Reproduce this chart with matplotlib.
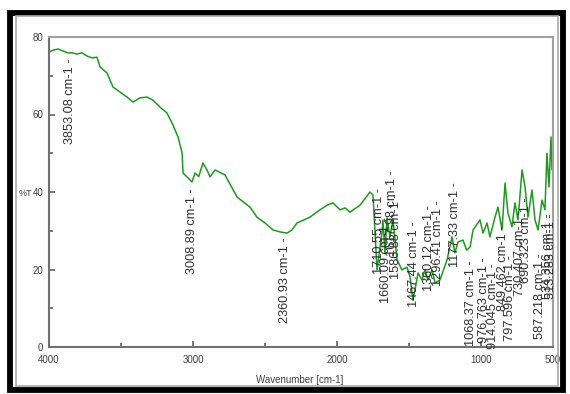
import matplotlib
matplotlib.use('Agg')
from matplotlib import pyplot as plt
from matplotlib.patches import Rectangle

plt.rcParams['font.family'] = ['Liberation Sans Narrow', 'Liberation Sans', 'DejaVu Sans']

# traced spectrum (wavenumber, %T)
wavenumber = [4000, 3972, 3937, 3903, 3868, 3840, 3806, 3771, 3736, 3701, 3667, 3646,
              3597, 3556, 3507, 3458, 3417, 3368, 3319, 3278, 3229, 3181, 3139, 3104,
              3076, 3069, 3042, 3007, 2986, 2960, 2931, 2903, 2882, 2847, 2778, 2694,
              2604, 2556, 2500, 2444, 2396, 2347, 2313, 2278, 2188, 2118, 2069, 2028,
              1979, 1944, 1910, 1840, 1771, 1750, 1722, 1688, 1681, 1667, 1653, 1632,
              1611, 1583, 1549, 1514, 1493, 1472, 1437, 1410, 1389, 1368, 1340, 1319,
              1285, 1236, 1201, 1181, 1160, 1125, 1100, 1076, 1055, 1007, 986, 958,
              938, 903, 882, 854, 833, 813, 785, 764, 743, 715, 694, 674, 646, 625,
              604, 576, 556, 542, 528, 514, 507, 500]
transmittance = [76.1, 76.6, 76.9, 76.4, 75.9, 75.9, 75.6, 75.9, 75.1, 74.6, 74.8, 72.3,
                 70.7, 67.1, 65.8, 64.5, 63.2, 64.3, 64.5, 63.7, 61.9, 60.4, 57.3, 54.2,
                 50.1, 44.9, 43.9, 42.6, 44.9, 44.0, 47.5, 45.7, 43.9, 45.7, 44.4, 38.7,
                 36.1, 33.5, 32.0, 30.2, 29.7, 29.4, 30.2, 32.0, 33.5, 35.4, 36.6, 37.2,
                 35.4, 35.9, 34.8, 36.6, 40.0, 39.2, 19.9, 29.4, 32.8, 24.3, 33.3, 28.4,
                 32.8, 22.5, 19.9, 20.6, 18.1, 12.1, 19.1, 17.3, 19.9, 17.3, 19.9, 16.5,
                 17.3, 22.5, 28.4, 24.3, 27.1, 27.6, 25.0, 25.8, 30.2, 32.8, 29.4, 32.0,
                 28.4, 33.5, 36.1, 30.2, 42.3, 34.6, 31.0, 37.2, 32.8, 45.7, 41.3, 33.5,
                 40.5, 32.8, 30.2, 37.9, 35.4, 50.0, 41.3, 54.2, 45.7, 51.6]

peak_wn = [3853.08, 3008.89, 2360.93, 1710.55, 1660.09, 1617.98, 1586.88, 1467.44,
           1360.12, 1296.41, 1177.33, 1068.37, 976.763, 914.045, 849.462, 797.596,
           730.407, 690.323, 587.218, 534.356, 513.283]
peak_text = ['3853.08', '3008.89', '2360.93', '1710.55', '1660.09', '1617.98', '1586.88',
             '1467.44', '1360.12', '1296.41', '1177.33', '1068.37', '976.763', '914.045',
             '849.462', '797.596', '730.407', '690.323', '587.218', '534.356', '513.283']
# top of each rotated label, in %T
label_top = [74.6, 41.0, 28.4, 41.0, 33.5, 45.7, 39.7, 32.3, 36.6, 37.9, 42.6, 22.5,
             23.2, 21.7, 31.5, 23.7, 35.4, 38.7, 24.3, 34.6, 34.6]

fig = plt.figure(figsize=(5.7, 3.94), dpi=100)

# outer frame
fig.patches.append(Rectangle((10 / 570, 4 / 394), 553 / 570, 377.5 / 394, transform=fig.transFigure,
                             fill=False, edgecolor='black', lw=4.2))
fig.patches.append(Rectangle((15.5 / 570, 8 / 394), 542 / 570, 370 / 394, transform=fig.transFigure,
                             fill=False, edgecolor='#a8a8a8', lw=1.2))

ax = fig.add_axes([49 / 570, 1 - 347 / 394, 504 / 570, 310 / 394])
ax.plot(wavenumber, transmittance, color='#1e9a1e', lw=1.1)

for wn, txt, top in zip(peak_wn, peak_text, label_top):
    ax.text(wn, top, txt + ' cm-1 -', rotation=90, ha='center', va='top',
            fontsize=9.2, color='#303030', family=['Liberation Sans', 'DejaVu Sans'])

ax.set_xlim(4000, 500)
ax.set_ylim(0, 80)
ax.set_xticks([4000, 3000, 2000, 1000, 500])
ax.set_xticks([3500, 2500, 1500], minor=True)
ax.set_yticks([0, 20, 40, 60, 80])
ax.set_yticks([10, 30, 50, 70], minor=True)
ax.tick_params(which='both', direction='in', colors='#606060', labelcolor='#404040',
               labelsize=7, width=1.2)
ax.tick_params(which='major', length=4)
ax.tick_params(axis='x', which='major', pad=6)
ax.tick_params(axis='y', which='major', pad=4)
ax.tick_params(which='minor', length=3)
for s in ['left', 'bottom']:
    ax.spines[s].set_color('#707070')
    ax.spines[s].set_linewidth(1.5)
for s in ['top', 'right']:
    ax.spines[s].set_color('#a0a0a0')
    ax.spines[s].set_linewidth(1.5)

fig.text(300 / 570, 1 - 380 / 394, 'Wavenumber [cm-1]', ha='center', va='center',
         fontsize=7, color='#404040')
fig.text(25 / 570, 1 - 193 / 394, '%T', ha='center', va='center', fontsize=6.5, color='#404040')

fig.savefig('out.png', dpi=100)
